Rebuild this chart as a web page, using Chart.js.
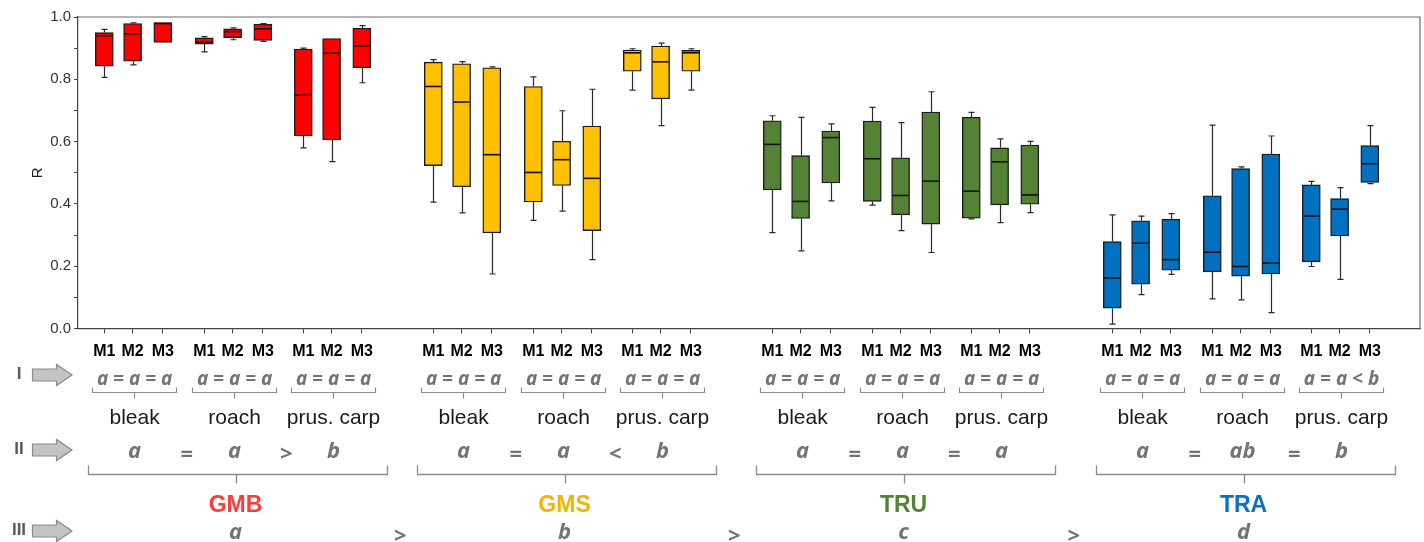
<!DOCTYPE html>
<html>
<head>
<meta charset="utf-8">
<script src="https://cdn.jsdelivr.net/npm/chart.js@4.4.0/dist/chart.umd.min.js"></script>
<style>
  html, body { margin: 0; padding: 0; background: #ffffff; }
  #wrap { width: 1424px; height: 542px; position: relative; }
</style>
</head>
<body>
<div id="wrap"><canvas id="chart"></canvas></div>
<script>
// ---- data -------------------------------------------------------------
const groups = ['GMB', 'GMS', 'TRU', 'TRA'];
const species = ['bleak', 'roach', 'prus. carp'];
const models = ['M1', 'M2', 'M3'];

// Box statistics of R, ordered group -> species -> model (9 values per group)
const whiskerLow = [
  0.806, 0.846, 0.918,  0.888, 0.927, 0.922,  0.580, 0.536, 0.789,   // GMB
  0.406, 0.371, 0.175,  0.347, 0.377, 0.221,  0.765, 0.651, 0.765,   // GMS
  0.308, 0.249, 0.410,  0.396, 0.314, 0.244,  0.352, 0.340, 0.372,   // TRU
  0.014, 0.109, 0.174,  0.095, 0.092, 0.051,  0.199, 0.158, 0.465    // TRA
];
const q1 = [
  0.842, 0.858, 0.918,  0.913, 0.934, 0.925,  0.618, 0.605, 0.837,
  0.523, 0.455, 0.307,  0.406, 0.459, 0.314,  0.826, 0.737, 0.826,
  0.445, 0.353, 0.467,  0.408, 0.365, 0.335,  0.354, 0.397, 0.399,
  0.065, 0.142, 0.187,  0.182, 0.168, 0.175,  0.214, 0.297, 0.469
];
const median = [
  0.940, 0.946, 0.979,  0.920, 0.953, 0.962,  0.749, 0.884, 0.907,
  0.777, 0.727, 0.558,  0.501, 0.542, 0.482,  0.885, 0.856, 0.885,
  0.591, 0.408, 0.613,  0.545, 0.427, 0.473,  0.441, 0.535, 0.429,
  0.162, 0.274, 0.221,  0.245, 0.199, 0.210,  0.361, 0.383, 0.529
];
const q3 = [
  0.950, 0.979, 0.982,  0.933, 0.962, 0.977,  0.897, 0.931, 0.964,
  0.855, 0.850, 0.837,  0.777, 0.601, 0.650,  0.894, 0.907, 0.893,
  0.667, 0.555, 0.634,  0.666, 0.548, 0.695,  0.678, 0.580, 0.589,
  0.279, 0.346, 0.351,  0.426, 0.513, 0.560,  0.461, 0.417, 0.587
];
const whiskerHigh = [
  0.960, 0.981, 0.983,  0.937, 0.965, 0.979,  0.900, 0.931, 0.972,
  0.863, 0.857, 0.840,  0.808, 0.699, 0.768,  0.898, 0.916, 0.898,
  0.683, 0.678, 0.657,  0.710, 0.661, 0.760,  0.694, 0.609, 0.601,
  0.365, 0.361, 0.369,  0.653, 0.519, 0.618,  0.472, 0.452, 0.651
];

// Test results: among models (per species), among species (per group), among groups
const modelTests = [
  'a = a = a', 'a = a = a', 'a = a = a',
  'a = a = a', 'a = a = a', 'a = a = a',
  'a = a = a', 'a = a = a', 'a = a = a',
  'a = a = a', 'a = a = a', 'a = a < b'
];
const speciesLetters = [['a', 'a', 'b'], ['a', 'a', 'b'], ['a', 'a', 'a'], ['a', 'ab', 'b']];
const speciesOps = [['=', '>'], ['=', '<'], ['=', '='], ['=', '=']];
const groupLetters = ['a', 'b', 'c', 'd'];
const groupOps = ['>', '>', '>'];

// ---- styling / layout ---------------------------------------------------
const groupColors = ['#FF0000', '#FFC000', '#548235', '#0070C0'];
const groupTextColors = ['#FF3B3B', '#F2B400', '#548235', '#0A72C4'];
const groupGap = [0, 329, 668, 1008];
const speciesGap = [0, 100, 199];
const modelGap = [0, 28.3, 58.5];
const firstBox = 26.3;

function boxX(g, s, m) {
  return firstBox + groupGap[g] + speciesGap[s] + modelGap[m];
}

const tickPositions = [];
for (let g = 0; g < 4; g++)
  for (let s = 0; s < 3; s++)
    for (let m = 0; m < 3; m++) tickPositions.push(boxX(g, s, m));

const datasets = groups.map((name, g) => {
  const data = [];
  for (let k = 0; k < 9; k++) {
    const i = g * 9 + k;
    data.push({ x: boxX(g, Math.floor(k / 3), k % 3), y: [q1[i], q3[i]] });
  }
  return {
    label: name,
    data,
    backgroundColor: groupColors[g],
    borderColor: '#1c1c1c',
    borderWidth: 1.4,
    borderSkipped: false,
    barThickness: 18,
    grouped: false
  };
});

// whiskers, caps and median lines drawn on top of the boxes
const boxExtras = {
  id: 'boxExtras',
  afterDatasetsDraw(chart) {
    const ctx = chart.ctx;
    const y = chart.scales.y;
    ctx.save();
    chart.data.datasets.forEach((ds, g) => {
      const meta = chart.getDatasetMeta(g);
      meta.data.forEach((bar, k) => {
        const i = g * 9 + k;
        const cx = Math.round(bar.x) + 0.5;
        const half = bar.width / 2;
        const pLow = y.getPixelForValue(whiskerLow[i]);
        const pQ1 = y.getPixelForValue(q1[i]);
        const pQ3 = y.getPixelForValue(q3[i]);
        const pHigh = y.getPixelForValue(whiskerHigh[i]);
        const pMed = y.getPixelForValue(median[i]);
        ctx.strokeStyle = '#2a2a2a';
        ctx.lineWidth = 1.2;
        ctx.beginPath();
        if (pHigh < pQ3 - 0.5) {
          ctx.moveTo(cx, pQ3); ctx.lineTo(cx, pHigh);
          ctx.moveTo(cx - 3, pHigh); ctx.lineTo(cx + 3, pHigh);
        }
        if (pLow > pQ1 + 0.5) {
          ctx.moveTo(cx, pQ1); ctx.lineTo(cx, pLow);
          ctx.moveTo(cx - 3, pLow); ctx.lineTo(cx + 3, pLow);
        }
        ctx.stroke();
        ctx.strokeStyle = '#111111';
        ctx.lineWidth = 1.6;
        ctx.beginPath();
        ctx.moveTo(bar.x - half + 1, pMed);
        ctx.lineTo(bar.x + half - 1, pMed);
        ctx.stroke();
      });
    });
    ctx.restore();
  }
};

// plot frame and the statistical annotation rows under the axis
const annotations = {
  id: 'annotations',
  afterDraw(chart) {
    const ctx = chart.ctx;
    const xs = chart.scales.x;
    const area = chart.chartArea;
    ctx.save();

    // frame top and right
    ctx.strokeStyle = '#6e6e6e';
    ctx.lineWidth = 1.2;
    ctx.beginPath();
    ctx.moveTo(area.left, area.top);
    ctx.lineTo(area.right, area.top);
    ctx.lineTo(area.right, area.bottom);
    ctx.stroke();

    const italic = (px) => `italic bold ${px}px "Open Sans", "Liberation Sans", Arial, sans-serif`;
    const grey = '#737373';

    // row markers with block arrows
    const rows = [['I', 375], ['II', 450], ['III', 531]];
    rows.forEach(([txt, yc]) => {
      ctx.fillStyle = '#5a5a5a';
      ctx.font = 'bold 17px "Liberation Sans", Arial, sans-serif';
      ctx.textAlign = 'center';
      ctx.textBaseline = 'middle';
      ctx.fillText(txt, 19, yc - 1);
      ctx.beginPath();
      ctx.moveTo(32.5, yc - 6);
      ctx.lineTo(56.5, yc - 6);
      ctx.lineTo(56.5, yc - 10.5);
      ctx.lineTo(72, yc);
      ctx.lineTo(56.5, yc + 10.5);
      ctx.lineTo(56.5, yc + 6);
      ctx.lineTo(32.5, yc + 6);
      ctx.closePath();
      ctx.fillStyle = '#c4c4c4';
      ctx.fill();
      ctx.strokeStyle = '#8a8a8a';
      ctx.lineWidth = 1.2;
      ctx.stroke();
    });

    function bracket(x1, x2, yb, up, down, cx) {
      ctx.beginPath();
      ctx.moveTo(x1, yb - up); ctx.lineTo(x1, yb); ctx.lineTo(x2, yb); ctx.lineTo(x2, yb - up);
      ctx.moveTo(cx, yb); ctx.lineTo(cx, yb + down);
      ctx.stroke();
    }

    const groupCenters = [];
    for (let g = 0; g < 4; g++) {
      const centers = [];
      for (let s = 0; s < 3; s++) {
        const p1 = xs.getPixelForValue(boxX(g, s, 0));
        const p3 = xs.getPixelForValue(boxX(g, s, 2));
        const c = (p1 + p3) / 2;
        centers.push(c);

        // row I: among models
        ctx.fillStyle = grey;
        ctx.font = italic(19);
        ctx.textAlign = 'center';
        ctx.textBaseline = 'middle';
        ctx.fillText(modelTests[g * 3 + s], c + 1, 380);
        ctx.strokeStyle = '#8c8c8c';
        ctx.lineWidth = 1.2;
        bracket(Math.round(p1 - 12) + 0.5, Math.round(p3 + 13) + 0.5, 392.5, 5, 6, Math.round(c) + 0.5);

        // species name
        ctx.fillStyle = '#1a1a1a';
        ctx.font = '21px "Liberation Sans", Arial, sans-serif';
        ctx.textBaseline = 'alphabetic';
        ctx.fillText(species[s], c + 1, 424);
      }

      // row II: among species
      ctx.fillStyle = grey;
      ctx.font = italic(22);
      ctx.textBaseline = 'middle';
      for (let s = 0; s < 3; s++) ctx.fillText(speciesLetters[g][s], centers[s] + 1, 452);
      for (let o = 0; o < 2; o++) ctx.fillText(speciesOps[g][o], (centers[o] + centers[o + 1]) / 2 + 3, 455);

      const left = xs.getPixelForValue(boxX(g, 0, 0)) - 16;
      const right = xs.getPixelForValue(boxX(g, 2, 2)) + 25;
      const gc = centers[1] + 2;
      groupCenters.push(gc);
      ctx.strokeStyle = '#8c8c8c';
      ctx.lineWidth = 1.3;
      bracket(Math.round(left) + 0.5, Math.round(right) + 0.5, 474.5, 9, 9, Math.round(gc) + 0.5);

      // group name
      ctx.fillStyle = groupTextColors[g];
      ctx.font = 'bold 23px "Liberation Sans", Arial, sans-serif';
      ctx.textBaseline = 'alphabetic';
      ctx.fillText(groups[g], gc, 512);
    }

    // row III: among groups
    ctx.fillStyle = grey;
    ctx.font = italic(22);
    ctx.textBaseline = 'middle';
    groupLetters.forEach((t, g) => ctx.fillText(t, groupCenters[g], 533));
    groupOps.forEach((t, o) => ctx.fillText(t, (groupCenters[o] + groupCenters[o + 1]) / 2, 537));

    ctx.restore();
  }
};

new Chart(document.getElementById('chart'), {
  type: 'bar',
  data: { datasets },
  options: {
    responsive: true,
    maintainAspectRatio: false,
    animation: false,
    layout: { padding: { top: 17, right: 4, left: 0, bottom: 0 } },
    plugins: { legend: { display: false }, tooltip: { enabled: false } },
    scales: {
      x: {
        type: 'linear',
        min: 0,
        max: 1342,
        offset: false,
        grid: { display: true, drawOnChartArea: false, drawTicks: true, tickLength: 5, color: '#444', offset: false },
        border: { display: true, color: '#444', width: 1.2 },
        afterBuildTicks(scale) { scale.ticks = tickPositions.map(v => ({ value: v })); },
        afterFit(scale) { scale.height = 213.5; },
        ticks: {
          autoSkip: false,
          maxRotation: 0,
          padding: 8,
          color: '#000',
          font: { family: '"Liberation Sans", Arial, sans-serif', size: 16, weight: 'bold' },
          callback: (v, i) => models[i % 3]
        }
      },
      y: {
        min: 0,
        max: 1,
        grid: { display: true, drawOnChartArea: false, drawTicks: true, tickLength: 4, color: '#444' },
        border: { display: true, color: '#444', width: 1.2 },
        afterFit(scale) { scale.width = 78; },
        title: {
          display: true,
          text: 'R',
          color: '#222',
          font: { family: '"Liberation Sans", Arial, sans-serif', size: 15 },
          padding: { top: 29, bottom: 0 }
        },
        ticks: {
          stepSize: 0.1,
          padding: 3,
          color: '#333',
          font: { family: '"Liberation Sans", Arial, sans-serif', size: 15 },
          callback: (v) => (Math.round(v * 10) % 2 === 0 ? v.toFixed(1) : '')
        }
      }
    }
  },
  plugins: [boxExtras, annotations]
});
</script>
</body>
</html>
